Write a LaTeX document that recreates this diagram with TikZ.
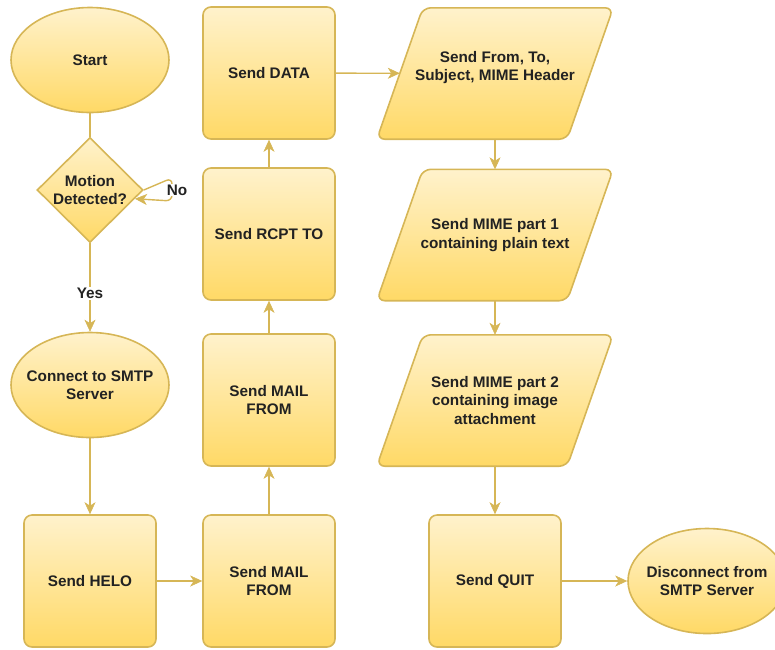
\documentclass[tikz,border=0pt]{standalone}
\usepackage{fontspec}
\setmainfont{Liberation Sans}
\usetikzlibrary{shapes.geometric,arrows.meta,backgrounds}
\definecolor{ybord}{HTML}{D6B656}
\definecolor{ytop}{HTML}{FFF2CC}
\definecolor{ybot}{HTML}{FFD966}
\definecolor{ytext}{HTML}{222222}
\tikzset{
  txt/.style={font=\fontsize{15.3}{18.5}\selectfont\bfseries, text=ytext, align=center},
  base/.style={draw=ybord, line width=1.6pt, top color=ytop, bottom color=ybot, txt, inner sep=0pt},
  oval/.style={base, ellipse, minimum width=158pt, minimum height=105pt},
  stepbox/.style={base, rectangle, rounded corners=8pt, minimum width=132pt, minimum height=132pt},
  decision/.style={base, diamond, minimum width=106pt, minimum height=105pt},
  io/.style={rectangle, txt, inner sep=0pt, minimum width=190pt, minimum height=131pt},
  iofill/.style={draw=ybord, line width=1.6pt, top color=ytop, bottom color=ybot, rounded corners=8pt},
  conn/.style={draw=ybord, line width=1.4pt, -{Stealth[length=12pt,width=11pt,inset=3.5pt,line width=0.5pt]}},
  plain/.style={draw=ybord, line width=1.4pt},
  lbl/.style={fill=white, txt, inner sep=1pt}
}
\newcommand\parashape[1]{\path[iofill] ([xshift=23pt]#1.north west) -- ([xshift=23pt]#1.north east) -- ([xshift=-23pt]#1.south east) -- ([xshift=-23pt]#1.south west) -- cycle;}
\begin{document}
\begin{tikzpicture}[x=1pt,y=-1pt]
\useasboundingbox (0,0) rectangle (775,649);
\node[oval, label={[txt]center:Start}] (start) at (90,60) {};
\node[decision, label={[txt]center:Motion\\Detected?}] (dia) at (90,190) {};
\node[oval, label={[txt]center:Connect to SMTP\\Server}] (conn) at (90,385) {};
\node[stepbox] (helo) at (90,581) {Send HELO};
\node[stepbox] (mail1) at (269,581) {Send MAIL\\FROM};
\node[stepbox] (mail2) at (269,400) {Send MAIL\\FROM};
\node[stepbox] (rcpt) at (269,234) {Send RCPT TO};
\node[stepbox] (data) at (269,73) {Send DATA};
\node[io, label={[txt, yshift=6pt]center:Send From, To,\\Subject, MIME Header}] (p1) at (495,73.5) {};
\node[io] (p2) at (495,235) {Send MIME part 1\\containing plain text};
\node[io] (p3) at (495,400.5) {Send MIME part 2\\containing image\\attachment};
\node[stepbox] (quit) at (495,581) {Send QUIT};
\node[oval, label={[txt]center:Disconnect from\\SMTP Server}] (disc) at (707,581) {};
\begin{scope}[on background layer]
\parashape{p1}
\parashape{p2}
\parashape{p3}
\end{scope}

\draw[plain] (start) -- (dia);
\draw[conn] (dia) -- node[lbl, pos=0.57] (yes) {Yes} (conn);
\draw[conn, rounded corners=6pt] (dia.east) -- (172,178) -- (172,201) -- (dia.-11);
\node[lbl] (no) at (177,190) {No};
\draw[conn] (conn) -- (helo);
\draw[conn] (helo) -- (mail1);
\draw[conn] (mail1) -- (mail2);
\draw[conn] (mail2) -- (rcpt);
\draw[conn] (rcpt) -- (data);
\draw[conn] (data) -- (p1);
\draw[conn] (p1) -- (p2);
\draw[conn] (p2) -- (p3);
\draw[conn] (p3) -- (quit);
\draw[conn] (quit) -- (disc);
\end{tikzpicture}
\end{document}
